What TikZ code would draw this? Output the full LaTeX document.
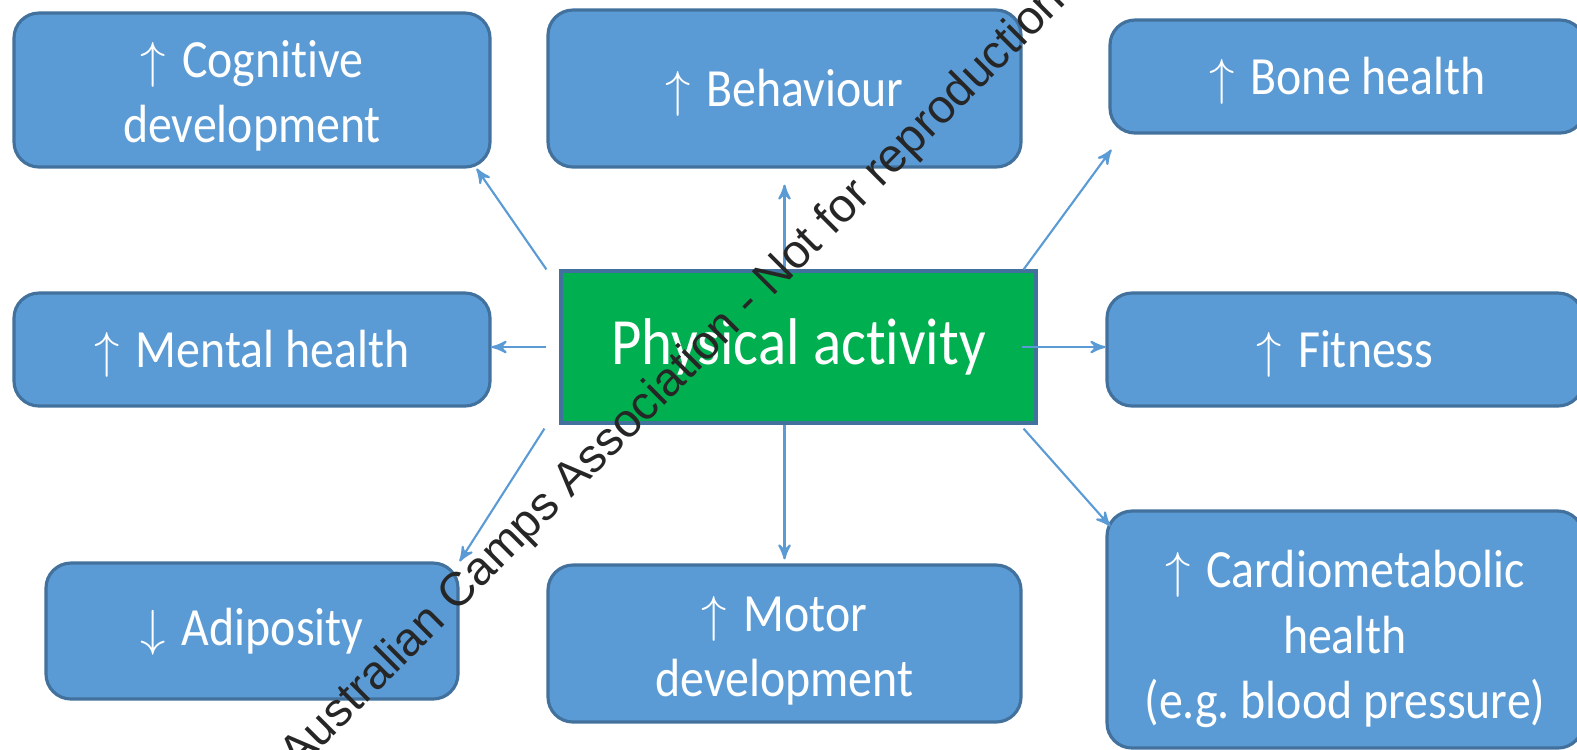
\documentclass[tikz,border=0pt]{standalone}
\usepackage{fontspec}
\setmainfont{Carlito}[FakeStretch=0.89, Ligatures=NoCommon]
\newfontfamily\markfont{Liberation Sans}
\usetikzlibrary{arrows}

\definecolor{boxblue}{HTML}{5B9BD5}
\definecolor{boxedge}{HTML}{41719C}
\definecolor{pagreen}{HTML}{00B050}
\definecolor{linkblue}{HTML}{5B9BD5}

\newcommand{\upsign}{\smash{$\uparrow$}\hspace{0.3em}}
\newcommand{\downsign}{\smash{$\downarrow$}\hspace{0.3em}}

\begin{document}
\begin{tikzpicture}[>=stealth',
  effect/.style={draw=boxedge, line width=0.9pt, fill=boxblue, rounded corners=0.25cm,
    text=white, align=center, font=\fontsize{15.3}{18.6}\selectfont\frenchspacing},
  activity/.style={draw=boxedge, line width=0.9pt, fill=pagreen, text=white,
    minimum width=4.75cm, minimum height=1.52cm, font=\fontsize{18.8}{23}\selectfont},
  link/.style={->, draw=linkblue, line width=0.6pt}]

\useasboundingbox (0,0) rectangle (15.77,-7.49);

% define the central activity
  \node[activity] (pa) at (7.985,-3.47) {Physical activity};

% define the outcomes
  \node[effect, minimum width=4.76cm, minimum height=1.54cm] (cog)  at (2.52,-0.90)
{\upsign\rule{0pt}{14pt}Cognitive\\development};
  \node[effect, minimum width=4.73cm, minimum height=1.57cm] (beh)  at (7.845,-0.885)
{\upsign Behaviour};
  \node[effect, minimum width=4.75cm, minimum height=1.13cm] (bone) at (13.475,-0.765)
{\upsign Bone health};
  \node[effect, minimum width=4.76cm, minimum height=1.13cm] (ment) at (2.52,-3.495)
{\upsign Mental health};
  \node[effect, minimum width=4.76cm, minimum height=1.13cm] (fit)  at (13.45,-3.495)
{\upsign Fitness};
  \node[effect, minimum width=4.12cm, minimum height=1.36cm] (adi)  at (2.52,-6.31)
{\downsign Adiposity};
  \node[effect, minimum width=4.73cm, minimum height=1.57cm] (mot)  at (7.845,-6.435)
{\upsign\rule{0pt}{14pt}Motor\\development};
  \node[effect, minimum width=4.76cm, minimum height=2.37cm] (card) at (13.45,-6.295)
{\upsign\rule{0pt}{16pt}Cardiometabolic\\health\\(e.g. blood pressure)};

% define the links
  \draw[link] ([xshift=-0.13cm]pa.north west) -- ([xshift=-0.15cm]cog.south east);
  \draw[link] ([xshift=-0.13cm]pa.west) -- (ment.east |- pa.west);
  \draw[link] ([shift={(-0.15,-0.04)}]pa.south west) -- (adi.north east);
  \draw[link] (pa.north -| beh.south) -- ([yshift=-0.16cm]beh.south);
  \draw[link] (pa.south -| mot.north) -- ([yshift=0.04cm]mot.north);
  \draw[link] ([xshift=-0.14cm]pa.north east) -- ([shift={(0.03,-0.15)}]bone.south west);
  \draw[link] ([xshift=-0.16cm]pa.east) -- (fit.west |- pa.east);
  \draw[link] ([shift={(-0.14,-0.04)}]pa.south east) -- ([shift={(0.05,-0.17)}]card.north west);

% watermark across the picture
  \node[rotate=45, anchor=base west, inner sep=0pt, text=black!85,
    font=\markfont\fontsize{13.45}{16}\selectfont] (mark) at (2.98,-7.72)
{Australian Camps Association - Not for reproduction};

\end{tikzpicture}
\end{document}
